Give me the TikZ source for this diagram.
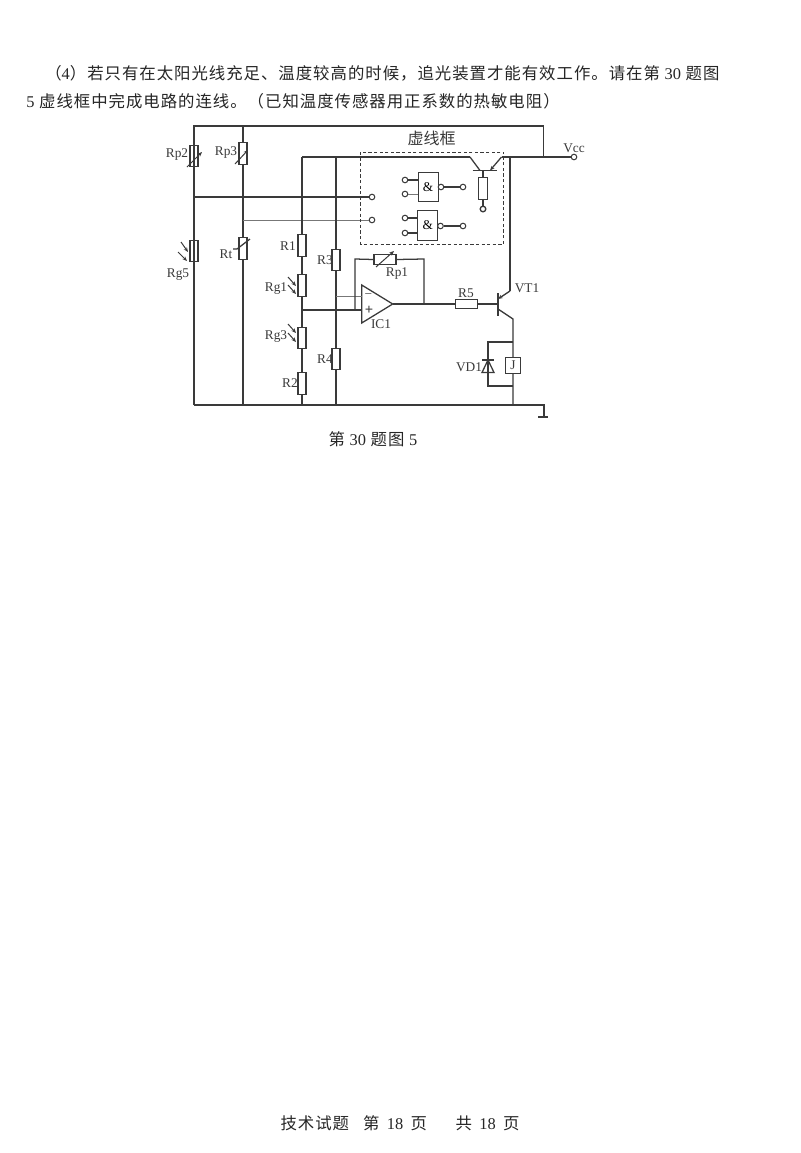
\documentclass[tikz,border=0pt]{standalone}
\usepackage{fontspec}
\setmainfont{Liberation Serif}
\newfontfamily\cjk[LetterSpace=6]{Noto Sans CJK SC}
\newfontfamily\cjkt{Noto Sans CJK SC}
\newcommand{\lat}[1]{{\rmfamily #1}}
\usetikzlibrary{arrows.meta}
\definecolor{ink}{HTML}{3A3A3A}
\definecolor{thin}{HTML}{777777}
\tikzset{
 x=0.75pt,y=-0.75pt,
 wire/.style={draw=ink,line width=0.95pt},
 heavy/.style={draw=ink,line width=1.1pt},
 faint/.style={draw=thin,line width=0.6pt},
 resv/.style={draw=ink,line width=0.85pt,rectangle,inner sep=0pt,minimum width=6pt,minimum height=16pt},
 resh/.style={draw=ink,line width=0.85pt,rectangle,inner sep=0pt,minimum width=16.5pt,minimum height=6.5pt},
 term/.style={draw=ink,line width=0.75pt,circle,inner sep=0pt,minimum size=4.2pt,fill=white},
 gate/.style={draw=ink,line width=0.75pt,rectangle,inner sep=0pt,minimum width=15pt,minimum height=22pt,font=\fontsize{10}{10}\selectfont},
 lab/.style={inner sep=0pt,text=ink,font=\fontsize{10}{10}\selectfont},
 para/.style={inner sep=0pt,anchor=west,text=black!85,font=\fontsize{12.3}{13}\selectfont},
 tip/.style={-{Stealth[length=3.5pt,width=2.8pt]},draw=ink,line width=0.75pt},
 dashbox/.style={draw=ink,line width=0.75pt,dash pattern=on 2.4pt off 1.8pt},
}
\begin{document}
\begin{tikzpicture}
\useasboundingbox[fill=white] (0,0) rectangle (800,1153);
% text
\node[para] (l1) at (45,73) {\cjk （\lat{4}）若只有在太阳光线充足、温度较高的时候，追光装置才能有效工作。请在第 \lat{30} 题图};
\node[para] (l2) at (26,101) {\cjk \lat{5} 虚线框中完成电路的连线。（已知温度传感器用正系数的热敏电阻）};
\node[para,anchor=center] (cap) at (373,439) {\cjk 第 \lat{30} 题图 \lat{5}};
\node[para,anchor=center] (foot) at (400,1123) {\cjk 技术试题\hspace{7pt} 第\hspace{2pt} \lat{18}\hspace{2pt} 页\hspace{18pt} 共\hspace{2pt} \lat{18}\hspace{2pt} 页};
% rails
\coordinate (tl) at (194,126); \coordinate (t2) at (243,126); \coordinate (tr) at (543.5,126);
\coordinate (bl) at (194,405); \coordinate (b2) at (243,405); \coordinate (b3) at (302,405);
\coordinate (b4) at (336,405); \coordinate (b5) at (513,405); \coordinate (br) at (544,405);
\coordinate (gnd) at (544,417); \coordinate (gl) at (538,417); \coordinate (gr) at (548,417);
\coordinate (v1) at (302,157); \coordinate (v2) at (336,157); \coordinate (qel) at (470,157);
\coordinate (qer) at (501.5,157); \coordinate (v3) at (510,157); \coordinate (v4) at (543.5,157);
\node[term] (vcc) at (574,157) {};
\draw[heavy] (bl) -- (tl) -- (tr) -- (v4);
\draw[heavy] (bl) -- (br) -- (gnd);
\draw[wire] (gl) -- (gr);
\draw[heavy] (v1) -- (qel);
\draw[heavy] (qer) -- (vcc);
% sensors
\node[resv] (rp2) at (194,156) {}; \node[resv] (rp3) at (243,153.5) {};
\node[resv] (rg5) at (194,251) {}; \node[resv] (rt) at (243,248.5) {};
\node[resv] (r1) at (302,245.5) {}; \node[resv] (rg1) at (302,285.5) {};
\node[resv] (rg3) at (302,338) {}; \node[resv] (r2) at (302,383.5) {};
\node[resv] (r3) at (336,260) {}; \node[resv] (r4) at (336,359) {};
\coordinate (n5) at (194,197); \coordinate (nt) at (243,220); \coordinate (mid) at (302,310);
\coordinate (x3) at (336,296); \coordinate (xm) at (336,310);
\node[term] (a1) at (372,197) {}; \node[term] (a2) at (372,220) {};
\draw[wire] (tl) -- (rp2.north) (rp2.south) -- (rg5.north) (rg5.south) -- (bl);
\draw[wire] (t2) -- (rp3.north) (rp3.south) -- (rt.north) (rt.south) -- (b2);
\draw[heavy] (n5) -- (a1);
\draw[faint] (nt) -- (a2);
\draw[wire] (v1) -- (r1.north) (r1.south) -- (rg1.north) (rg1.south) -- (rg3.north) (rg3.south) -- (r2.north) (r2.south) -- (b3);
\draw[wire] (v2) -- (r3.north) (r3.south) -- (r4.north) (r4.south) -- (b4);
% variable / thermistor marks
\coordinate (s1) at (187,167); \coordinate (s2) at (202,152);
\draw[tip] (s1) -- (s2);
\coordinate (s3) at (235,164); \coordinate (s4) at (248,150);
\draw[tip] (s3) -- (s4);
\coordinate (s5) at (233,249); \coordinate (s6) at (237,249); \coordinate (s7) at (250,239);
\draw[wire] (s5) -- (s6) -- (s7);
% light arrows
\foreach \n/\xa/\ya/\xb/\yb in {p1/181/242/188/252,p2/178/252/187/261,p3/288/277/296/286,p4/288/285/296/294,p5/288/324/296/333,p6/288/333/296/342}{
  \coordinate (\n a) at (\xa,\ya); \coordinate (\n b) at (\xb,\yb);
  \draw[tip] (\n a) -- (\n b);
}
% op amp
\coordinate (oa1) at (361.7,285); \coordinate (oa2) at (361.7,323); \coordinate (oa3) at (392.7,304);
\coordinate (inm) at (361.7,296); \coordinate (inp) at (361.7,310);
\draw[wire,fill=white] (oa1) -- (oa2) -- (oa3) -- cycle;
\node[lab] (minus) at (368.5,296) {\textminus};
\node[lab,font=\fontsize{11}{11}\selectfont\bfseries] (plus) at (369,310) {+};
\draw[faint] (x3) -- (inm);
\coordinate (fbl) at (355,310); \coordinate (fbt) at (355,259); \coordinate (fbr) at (424,259); \coordinate (fbo) at (424,304);
\draw[heavy] (mid) -- (inp);
\node[resh,minimum height=7pt] (rp1) at (385,259.5) {};
\draw[wire] (fbl) -- (fbt) -- (rp1.west) (rp1.east) -- (fbr) -- (fbo);
\coordinate (s8) at (376,267); \coordinate (s9) at (394,251);
\draw[tip] (s8) -- (s9);
% output & VT1
\node[resh] (r5) at (466.5,304) {};
\coordinate (bb) at (498,304); \coordinate (bt) at (498,293); \coordinate (bd) at (498,316);
\coordinate (ce) at (498,299); \coordinate (ec) at (510,291); \coordinate (cc) at (498,309); \coordinate (cd) at (513,319);
\draw[wire] (oa3) -- (r5.west) (r5.east) -- (bb);
\draw[heavy] (bt) -- (bd);
\draw[wire] (ec) -- (v3);
\draw[wire,-{Stealth[length=3.5pt,width=2.8pt]}] (ec) -- (ce);
\draw[wire] (cc) -- (cd) -- (b5);
% relay & diode
\node[draw=ink,line width=0.85pt,rectangle,inner sep=0pt,minimum width=11pt,minimum height=11.5pt,fill=white,lab] (j) at (513,365.5) {J};
\coordinate (pt) at (488,342); \coordinate (pb) at (488,386); \coordinate (ptr) at (513,342); \coordinate (pbr) at (513,386);
\draw[wire] (ptr) -- (pt) -- (pb) -- (pbr);
\coordinate (d1) at (488,360); \coordinate (d2) at (482,372.5); \coordinate (d3) at (494,372.5);
\coordinate (d4) at (482,360); \coordinate (d5) at (494,360);
\draw[wire] (d1) -- (d2) -- (d3) -- cycle;
\draw[heavy] (d4) -- (d5);
% dashed box
\coordinate (dba) at (360.7,152); \coordinate (dbb) at (503.7,244);
\draw[dashbox] (dba) rectangle (dbb);
% transistor in box
\coordinate (qbl) at (472.5,170.5); \coordinate (qbr) at (497,170.5);
\coordinate (ql) at (480,170.5); \coordinate (qr) at (490,170.5); \coordinate (qb) at (483,170.5);
\draw[heavy] (qbl) -- (qbr);
\draw[wire] (qel) -- (ql);
\draw[wire,-{Stealth[length=3.5pt,width=2.8pt]}] (qer) -- (qr);
\node[resv,minimum height=17pt,minimum width=6.3pt] (rq) at (483,188.5) {};
\node[term,line width=1pt] (tq) at (483,209) {};
\draw[wire] (qb) -- (rq.north) (rq.south) -- (tq);
% gates
\node[gate] (g1) at (428,187.2) {\&};
\node[gate] (g2) at (427.8,225.5) {\&};
\node[term] (i11) at (405,180) {}; \node[term] (i12) at (405,194) {};
\node[term] (i21) at (405,218) {}; \node[term] (i22) at (405,233) {};
\node[term] (q1) at (441,187) {}; \node[term] (q2) at (440.5,226) {};
\node[term] (o1) at (463,187) {}; \node[term] (o2) at (463,226) {};
\draw[wire] (i11) -- (i11-|g1.west) (i21) -- (i21-|g2.west) (i22) -- (i22-|g2.west) (q1) -- (o1) (q2) -- (o2);
\draw[faint] (i12) -- (i12-|g1.west);
% labels
\node[lab] (lrp2) at (177,155) {Rp2};
\node[lab] (lrp3) at (226,153) {Rp3};
\node[lab] (lrg5) at (178,275) {Rg5};
\node[lab] (lrt) at (226,254) {Rt};
\node[lab] (lr1) at (288,246) {R1};
\node[lab] (lr3) at (325,260) {R3};
\node[lab] (lrg1) at (276,289) {Rg1};
\node[lab] (lrg3) at (276,337) {Rg3};
\node[lab] (lr2) at (290,383) {R2};
\node[lab] (lr4) at (325,359) {R4};
\node[lab] (lrp1) at (397,274) {Rp1};
\node[lab] (lr5) at (466,293) {R5};
\node[lab] (lvt) at (527,288) {VT1};
\node[lab] (lic) at (381,324) {IC1};
\node[lab] (lvd) at (469,367) {VD1};
\node[lab] (lvcc) at (574,148) {Vcc};
\node[lab,font=\fontsize{12}{12}\cjkt] (lbox) at (431.7,138) {虚线框};
\end{tikzpicture}
\end{document}
